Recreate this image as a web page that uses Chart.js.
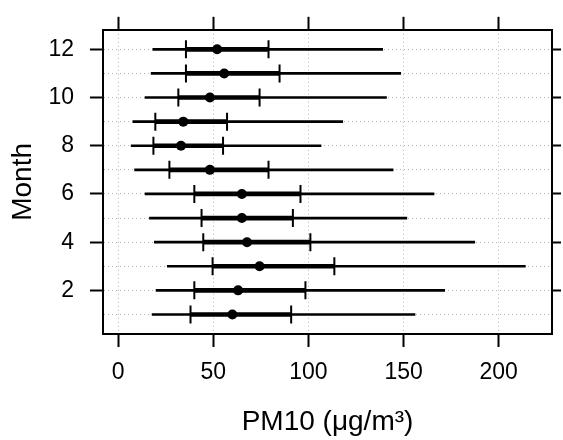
<!DOCTYPE html>
<html>
<head>
<meta charset="utf-8">
<script src="https://cdn.jsdelivr.net/npm/chart.js@4.4.1/dist/chart.umd.min.js"></script>
<style>
  html, body { margin: 0; padding: 0; background: #ffffff; }
  #wrap { width: 563px; height: 440px; }
</style>
</head>
<body>
<div id="wrap"><canvas id="c" width="563" height="440"></canvas></div>
<script>
// ---- data (PM10 distribution by month, µg/m3) ----
const months      = [1, 2, 3, 4, 5, 6, 7, 8, 9, 10, 11, 12];
const whiskerLow  = [17.8, 19.9, 25.8, 19.0, 16.4, 14.1, 8.6, 6.8, 7.7, 14.1, 17.3, 18.2];
const q1Values    = [38.0, 40.0, 49.6, 44.7, 43.8, 40.0, 26.9, 18.5, 19.5, 31.6, 35.6, 35.6];
const medians     = [60.0, 63.0, 74.3, 67.7, 65.0, 65.0, 48.2, 33.0, 34.2, 48.2, 55.7, 52.0];
const q3Values    = [90.9, 98.4, 113.6, 101.0, 91.8, 95.8, 79.0, 55.1, 57.2, 74.3, 84.8, 79.0];
const whiskerHigh = [156.0, 171.6, 214.0, 187.4, 151.7, 166.0, 144.5, 106.6, 118.0, 141.0, 148.5, 139.0];

const xTickValues = [0, 50, 100, 150, 200];
const monthLabelTicks = [2, 4, 6, 8, 10, 12];
const xTitle = 'PM10 (μg/m³)';
const yTitle = 'Month';

// ---- derived datasets ----
const whiskerData = months.map((m, i) => ({ y: m, x: [whiskerLow[i], whiskerHigh[i]] }));
const iqrData     = months.map((m, i) => ({ y: m, x: [q1Values[i], q3Values[i]] }));
const capData     = months.flatMap((m, i) => [{ x: q1Values[i], y: m }, { x: q3Values[i], y: m }]);
const medianData  = months.map((m, i) => ({ x: medians[i], y: m }));

const FONT = 'Liberation Sans, Arial, Helvetica, sans-serif';
const X_MIN = -8, X_MAX = 228, Y_MIN = 0.19, Y_MAX = 12.81;
const setTicks = (vals) => (scale) => { scale.ticks = vals.map(v => ({ value: v })); };
const isLabelMonth = (v) => monthLabelTicks.includes(v);

new Chart(document.getElementById('c'), {
  type: 'scatter',
  data: {
    datasets: [
      { type: 'scatter', data: medianData, pointStyle: 'circle', pointRadius: 5,
        backgroundColor: '#000', borderColor: '#000', borderWidth: 0, order: 0 },
      { type: 'scatter', data: capData, pointStyle: 'line', pointRadius: 9, rotation: 90,
        borderColor: '#000', borderWidth: 2, order: 1 },
      { type: 'bar', indexAxis: 'y', data: iqrData, grouped: false, barThickness: 4,
        backgroundColor: '#000', borderWidth: 0, order: 2 },
      { type: 'bar', indexAxis: 'y', data: whiskerData, grouped: false, barThickness: 2,
        backgroundColor: '#000', borderWidth: 0, order: 3 }
    ]
  },
  options: {
    responsive: false,
    animation: false,
    devicePixelRatio: 1,
    layout: { padding: 0 },
    plugins: { legend: { display: false }, tooltip: { enabled: false } },
    scales: {
      x: {
        type: 'linear', position: 'bottom', min: X_MIN, max: X_MAX, offset: false, stacked: false,
        afterBuildTicks: setTicks(xTickValues),
        afterFit: (s) => { s.height = 106; },
        grid: { color: '#b4b4b4', lineWidth: 1, offset: false, drawTicks: true, tickLength: 13,
                tickColor: '#000', tickWidth: 2, tickBorderDash: [] },
        border: { display: true, color: '#000', width: 2, dash: [1, 3] },
        ticks: { color: '#000', font: { family: FONT, size: 23 }, padding: 12, maxRotation: 0, autoSkip: false },
        title: { display: true, text: xTitle, color: '#000', font: { family: FONT, size: 28 },
                 padding: { top: 0, bottom: 1 } }
      },
      x2: {
        type: 'linear', position: 'top', min: X_MIN, max: X_MAX, offset: false,
        afterBuildTicks: setTicks(xTickValues),
        afterFit: (s) => { s.height = 23; },
        grid: { drawOnChartArea: false, drawTicks: true, tickLength: 13, tickColor: '#000', tickWidth: 2 },
        border: { display: true, color: '#000', width: 2 },
        ticks: { display: false, autoSkip: false }
      },
      y: {
        type: 'linear', position: 'left', min: Y_MIN, max: Y_MAX, offset: false, beginAtZero: false,
        afterBuildTicks: setTicks(months),
        afterFit: (s) => { s.width = 103; },
        grid: { color: '#b4b4b4', lineWidth: 1, offset: false, drawTicks: true, tickLength: 13,
                tickColor: (ctx) => isLabelMonth(ctx.tick && ctx.tick.value) ? '#000' : 'rgba(0,0,0,0)',
                tickWidth: 2, tickBorderDash: [] },
        border: { display: true, color: '#000', width: 2, dash: [1, 3] },
        ticks: { color: '#000', font: { family: FONT, size: 23 }, padding: 16, autoSkip: false,
                 callback: (v) => isLabelMonth(v) ? String(v) : '' },
        title: { display: true, text: yTitle, color: '#000', font: { family: FONT, size: 28 },
                 padding: { top: 6, bottom: 0 } }
      },
      y2: {
        type: 'linear', position: 'right', min: Y_MIN, max: Y_MAX, offset: false,
        afterBuildTicks: setTicks(monthLabelTicks),
        afterFit: (s) => { s.width = 9; },
        grid: { drawOnChartArea: false, drawTicks: true, tickLength: 9, tickColor: '#000', tickWidth: 2 },
        border: { display: true, color: '#000', width: 2 },
        ticks: { display: false, autoSkip: false }
      }
    }
  }
});
</script>
</body>
</html>
